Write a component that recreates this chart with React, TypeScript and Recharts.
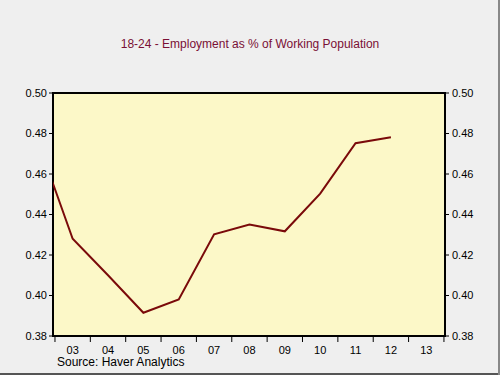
import React from "react";
import { ComposedChart, Line, XAxis, YAxis, ReferenceArea } from "recharts";

const years = [2002, 2003, 2004, 2005, 2006, 2007, 2008, 2009, 2010, 2011, 2012];
const employmentRatio = [0.477, 0.428, 0.41, 0.3915, 0.398, 0.4302, 0.4351, 0.4317, 0.4503, 0.4752, 0.4781];
const yTicks = [0.38, 0.4, 0.42, 0.44, 0.46, 0.48, 0.5];
const yearBoundaries = [2003, 2004, 2005, 2006, 2007, 2008, 2009, 2010, 2011, 2012, 2013, 2014];
const lastLabelYear = 2013;

const X_MIN = 2002.944;
const X_MAX = 2014.03;

const data = years.map((y, i) => ({ x: y + 0.5, v: employmentRatio[i] }));

const font = "'Liberation Sans', Arial, sans-serif";

const YearTick = (props: any) => {
  const { x, y, payload, width } = props;
  if (payload.value > lastLabelYear) return <g />;
  const halfYear = width / (X_MAX - X_MIN) / 2;
  const label = String(payload.value % 100).padStart(2, "0");
  return (
    <text
      x={x + halfYear}
      y={y}
      dy="0.71em"
      textAnchor="middle"
      fontSize={11}
      fontFamily={font}
      fill="#000"
    >
      {label}
    </text>
  );
};

export default function App() {
  return (
    <div
      style={{
        position: "absolute",
        left: 0,
        top: 0,
        width: 500,
        height: 375,
        background: "#efefef",
        fontFamily: font,
        overflow: "hidden",
      }}
    >
      <div
        style={{
          position: "absolute",
          left: 0,
          top: 37,
          width: 500,
          textAlign: "center",
          fontSize: 12,
          color: "#7a0f35",
        }}
      >
        18-24 - Employment as % of Working Population
      </div>
      <ComposedChart
        width={500}
        height={375}
        data={data}
        margin={{ top: 93, right: 0, bottom: 0, left: 0 }}
        style={{ position: "absolute", left: 0, top: 0 }}
      >
        <XAxis
          dataKey="x"
          type="number"
          domain={[X_MIN, X_MAX]}
          allowDataOverflow
          ticks={yearBoundaries}
          tick={YearTick}
          tickSize={6}
          tickMargin={4}
          tickLine={{ stroke: "#000", strokeWidth: 1 }}
          stroke="#000"
          axisLine={false}
          height={39}
          interval={0}
        />
        <YAxis
          yAxisId="left"
          domain={[0.38, 0.5]}
          ticks={yTicks}
          allowDataOverflow
          tickFormatter={(v: number) => v.toFixed(2)}
          tick={{ fill: "#000", fontSize: 11, fontFamily: font }}
          tickLine={{ stroke: "#000" }}
          tickSize={4}
          tickMargin={2}
          axisLine={false}
          width={53}
          interval={0}
        />
        <YAxis
          yAxisId="right"
          orientation="right"
          domain={[0.38, 0.5]}
          ticks={yTicks}
          allowDataOverflow
          tickFormatter={(v: number) => v.toFixed(2)}
          tick={{ fill: "#000", fontSize: 11, fontFamily: font }}
          tickLine={{ stroke: "#000" }}
          tickSize={4}
          tickMargin={3}
          axisLine={false}
          width={55}
          interval={0}
        />
        <ReferenceArea
          yAxisId="left"
          x1={X_MIN}
          x2={X_MAX}
          y1={0.38}
          y2={0.5}
          fill="#fcf8c8"
          fillOpacity={1}
          stroke="#000"
          strokeWidth={2}
          ifOverflow="visible"
        />
        <Line
          yAxisId="left"
          dataKey="v"
          type="linear"
          stroke="#7a0a0a"
          strokeWidth={2}
          dot={false}
          isAnimationActive={false}
        />
      </ComposedChart>
      <div
        style={{
          position: "absolute",
          left: 57,
          top: 355,
          fontSize: 12,
          color: "#000",
        }}
      >
        Source: Haver Analytics
      </div>
      <div
        style={{
          position: "absolute",
          left: 0,
          top: 373,
          width: 500,
          height: 2,
          background: "#555",
        }}
      />
      <div
        style={{
          position: "absolute",
          left: 498,
          top: 0,
          width: 2,
          height: 375,
          background: "#888",
        }}
      />
    </div>
  );
}
